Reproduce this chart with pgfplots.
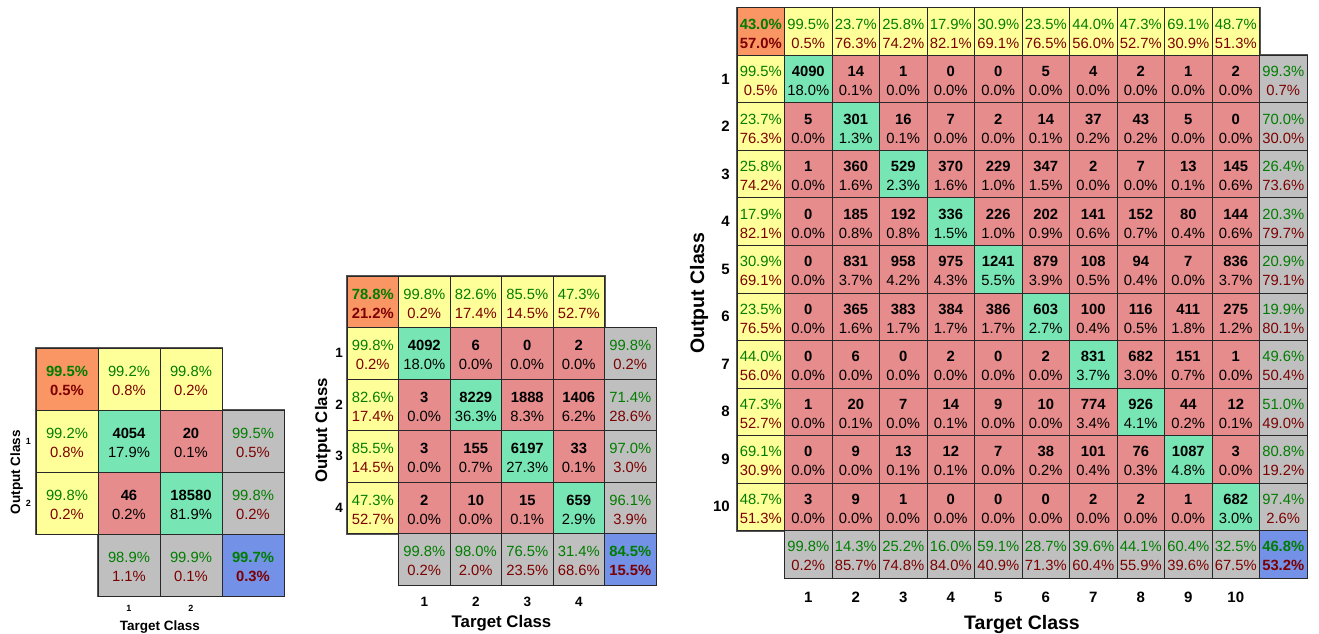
\documentclass[border=0pt]{standalone}
\usepackage{fontspec}
\setmainfont{Liberation Sans}
\usepackage{pgfplots}
\usepackage{pgfplotstable}
\pgfplotsset{compat=1.18}
\definecolor{corange}{RGB}{250,150,100}
\definecolor{cyellow}{RGB}{255,255,153}
\definecolor{cgreen}{RGB}{120,230,180}
\definecolor{cred}{RGB}{230,140,140}
\definecolor{cgray}{RGB}{191,191,191}
\definecolor{cblue}{RGB}{115,145,230}
\definecolor{tgreen}{RGB}{0,125,0}
\definecolor{tred}{RGB}{125,0,0}
\definecolor{edge}{RGB}{40,40,40}
\definecolor{outl}{RGB}{85,85,85}

\newcommand\cnt[1]{\pgfmathprintnumber[fixed,precision=0,1000 sep={},assume math mode=true]{#1}}
\newcommand\pct[1]{\pgfmathprintnumber[fixed,fixed zerofill,precision=1,assume math mode=true]{#1}\%}

\pgfplotstableread[row sep=\\]{
c r k a b \\
0 0 o 99.5 0.5 \\ 1 0 y 99.2 0.8 \\ 2 0 y 99.8 0.2 \\
0 1 y 99.2 0.8 \\ 1 1 g 4054 17.9 \\ 2 1 r 20 0.1 \\ 3 1 s 99.5 0.5 \\
0 2 y 99.8 0.2 \\ 1 2 r 46 0.2 \\ 2 2 g 18580 81.9 \\ 3 2 s 99.8 0.2 \\
1 3 s 98.9 1.1 \\ 2 3 s 99.9 0.1 \\ 3 3 b 99.7 0.3 \\
}\tA

\pgfplotstableread[row sep=\\]{
c r k a b \\
0 0 o 78.8 21.2 \\ 1 0 y 99.8 0.2 \\ 2 0 y 82.6 17.4 \\ 3 0 y 85.5 14.5 \\ 4 0 y 47.3 52.7 \\
0 1 y 99.8 0.2 \\ 1 1 g 4092 18.0 \\ 2 1 r 6 0.0 \\ 3 1 r 0 0.0 \\ 4 1 r 2 0.0 \\ 5 1 s 99.8 0.2 \\
0 2 y 82.6 17.4 \\ 1 2 r 3 0.0 \\ 2 2 g 8229 36.3 \\ 3 2 r 1888 8.3 \\ 4 2 r 1406 6.2 \\ 5 2 s 71.4 28.6 \\
0 3 y 85.5 14.5 \\ 1 3 r 3 0.0 \\ 2 3 r 155 0.7 \\ 3 3 g 6197 27.3 \\ 4 3 r 33 0.1 \\ 5 3 s 97.0 3.0 \\
0 4 y 47.3 52.7 \\ 1 4 r 2 0.0 \\ 2 4 r 10 0.0 \\ 3 4 r 15 0.1 \\ 4 4 g 659 2.9 \\ 5 4 s 96.1 3.9 \\
1 5 s 99.8 0.2 \\ 2 5 s 98.0 2.0 \\ 3 5 s 76.5 23.5 \\ 4 5 s 31.4 68.6 \\ 5 5 b 84.5 15.5 \\
}\tB

\pgfplotstableread[row sep=\\]{
c r k a b \\
0 0 o 43.0 57.0 \\ 1 0 y 99.5 0.5 \\ 2 0 y 23.7 76.3 \\ 3 0 y 25.8 74.2 \\ 4 0 y 17.9 82.1 \\ 5 0 y 30.9 69.1 \\ 6 0 y 23.5 76.5 \\ 7 0 y 44.0 56.0 \\ 8 0 y 47.3 52.7 \\ 9 0 y 69.1 30.9 \\ 10 0 y 48.7 51.3 \\
0 1 y 99.5 0.5 \\ 1 1 g 4090 18.0 \\ 2 1 r 14 0.1 \\ 3 1 r 1 0.0 \\ 4 1 r 0 0.0 \\ 5 1 r 0 0.0 \\ 6 1 r 5 0.0 \\ 7 1 r 4 0.0 \\ 8 1 r 2 0.0 \\ 9 1 r 1 0.0 \\ 10 1 r 2 0.0 \\ 11 1 s 99.3 0.7 \\
0 2 y 23.7 76.3 \\ 1 2 r 5 0.0 \\ 2 2 g 301 1.3 \\ 3 2 r 16 0.1 \\ 4 2 r 7 0.0 \\ 5 2 r 2 0.0 \\ 6 2 r 14 0.1 \\ 7 2 r 37 0.2 \\ 8 2 r 43 0.2 \\ 9 2 r 5 0.0 \\ 10 2 r 0 0.0 \\ 11 2 s 70.0 30.0 \\
0 3 y 25.8 74.2 \\ 1 3 r 1 0.0 \\ 2 3 r 360 1.6 \\ 3 3 g 529 2.3 \\ 4 3 r 370 1.6 \\ 5 3 r 229 1.0 \\ 6 3 r 347 1.5 \\ 7 3 r 2 0.0 \\ 8 3 r 7 0.0 \\ 9 3 r 13 0.1 \\ 10 3 r 145 0.6 \\ 11 3 s 26.4 73.6 \\
0 4 y 17.9 82.1 \\ 1 4 r 0 0.0 \\ 2 4 r 185 0.8 \\ 3 4 r 192 0.8 \\ 4 4 g 336 1.5 \\ 5 4 r 226 1.0 \\ 6 4 r 202 0.9 \\ 7 4 r 141 0.6 \\ 8 4 r 152 0.7 \\ 9 4 r 80 0.4 \\ 10 4 r 144 0.6 \\ 11 4 s 20.3 79.7 \\
0 5 y 30.9 69.1 \\ 1 5 r 0 0.0 \\ 2 5 r 831 3.7 \\ 3 5 r 958 4.2 \\ 4 5 r 975 4.3 \\ 5 5 g 1241 5.5 \\ 6 5 r 879 3.9 \\ 7 5 r 108 0.5 \\ 8 5 r 94 0.4 \\ 9 5 r 7 0.0 \\ 10 5 r 836 3.7 \\ 11 5 s 20.9 79.1 \\
0 6 y 23.5 76.5 \\ 1 6 r 0 0.0 \\ 2 6 r 365 1.6 \\ 3 6 r 383 1.7 \\ 4 6 r 384 1.7 \\ 5 6 r 386 1.7 \\ 6 6 g 603 2.7 \\ 7 6 r 100 0.4 \\ 8 6 r 116 0.5 \\ 9 6 r 411 1.8 \\ 10 6 r 275 1.2 \\ 11 6 s 19.9 80.1 \\
0 7 y 44.0 56.0 \\ 1 7 r 0 0.0 \\ 2 7 r 6 0.0 \\ 3 7 r 0 0.0 \\ 4 7 r 2 0.0 \\ 5 7 r 0 0.0 \\ 6 7 r 2 0.0 \\ 7 7 g 831 3.7 \\ 8 7 r 682 3.0 \\ 9 7 r 151 0.7 \\ 10 7 r 1 0.0 \\ 11 7 s 49.6 50.4 \\
0 8 y 47.3 52.7 \\ 1 8 r 1 0.0 \\ 2 8 r 20 0.1 \\ 3 8 r 7 0.0 \\ 4 8 r 14 0.1 \\ 5 8 r 9 0.0 \\ 6 8 r 10 0.0 \\ 7 8 r 774 3.4 \\ 8 8 g 926 4.1 \\ 9 8 r 44 0.2 \\ 10 8 r 12 0.1 \\ 11 8 s 51.0 49.0 \\
0 9 y 69.1 30.9 \\ 1 9 r 0 0.0 \\ 2 9 r 9 0.0 \\ 3 9 r 13 0.1 \\ 4 9 r 12 0.1 \\ 5 9 r 7 0.0 \\ 6 9 r 38 0.2 \\ 7 9 r 101 0.4 \\ 8 9 r 76 0.3 \\ 9 9 g 1087 4.8 \\ 10 9 r 3 0.0 \\ 11 9 s 80.8 19.2 \\
0 10 y 48.7 51.3 \\ 1 10 r 3 0.0 \\ 2 10 r 9 0.0 \\ 3 10 r 1 0.0 \\ 4 10 r 0 0.0 \\ 5 10 r 0 0.0 \\ 6 10 r 0 0.0 \\ 7 10 r 2 0.0 \\ 8 10 r 2 0.0 \\ 9 10 r 1 0.0 \\ 10 10 g 682 3.0 \\ 11 10 s 97.4 2.6 \\
1 11 s 99.8 0.2 \\ 2 11 s 14.3 85.7 \\ 3 11 s 25.2 74.8 \\ 4 11 s 16.0 84.0 \\ 5 11 s 59.1 40.9 \\ 6 11 s 28.7 71.3 \\ 7 11 s 39.6 60.4 \\ 8 11 s 44.1 55.9 \\ 9 11 s 60.4 39.6 \\ 10 11 s 32.5 67.5 \\ 11 11 b 46.8 53.2 \\
}\tC

\pgfplotsset{
  cm/.style={
    scale only axis, clip=false, anchor=north west,
    axis line style={draw=none}, tick style={draw=none}, major tick length=0pt,
    xmin=0, ymin=0,
    /pgf/number format/assume math mode=true,
    xticklabel style={anchor=center, inner sep=0pt},
    yticklabel style={anchor=east, inner sep=0pt},
    xlabel style={anchor=base, inner sep=0pt},
    ylabel style={anchor=base, inner sep=0pt},
  },
  fills/.style={scatter, only marks, scatter src=explicit symbolic, line width=1pt,
    scatter/classes={
      o={mark=square*, fill=corange, draw=edge},
      y={mark=square*, fill=cyellow, draw=edge},
      g={mark=square*, fill=cgreen, draw=edge},
      r={mark=square*, fill=cred, draw=edge},
      s={mark=square*, fill=cgray, draw=edge},
      b={mark=square*, fill=cblue, draw=edge}}},
  % number of "margin" conditions met: 0 = data cell, 1 = summary cell, 2 = corner cell
  sel/.style n args={3}{restrict expr to domain={(\thisrow{c}<0.5)+(\thisrow{c}>#1+0.5)+(\thisrow{r}<0.5)+(\thisrow{r}>#1+0.5)}{#2:#3}},
  txt/.style={only marks, mark=*, mark size=0pt, mark options={draw=none, fill=none},
    visualization depends on={\thisrow{a}\as\va},
    visualization depends on={\thisrow{b}\as\vb},
    every node near coord/.append style={anchor=center, align=center, inner sep=0pt, text=black,
      yshift=-2pt, font=\fontsize{14.8}{19}\selectfont}},
  tdata/.style={txt, nodes near coords={\textbf{\cnt{\va}}\\\pct{\vb}}},
  tmarg/.style={txt, nodes near coords={\textcolor{tgreen}{\pct{\va}}\\\textcolor{tred}{\pct{\vb}}}},
  tcorn/.style={txt, nodes near coords={\textbf{\textcolor{tgreen}{\pct{\va}}}\\\textbf{\textcolor{tred}{\pct{\vb}}}}},
  outline/.style={draw=outl, line width=2pt, line join=miter, mark=none},
}

\begin{document}
\begin{tikzpicture}
\useasboundingbox (0,0) rectangle (1319pt,633pt);

% ---------- 2 classes ----------
\begin{axis}[cm, at={(36pt,285pt)}, width=248pt, height=248pt, xmax=4, ymax=4,
  xtick={1.5,2.5}, xticklabels={1,2}, ytick={1.5,2.5}, yticklabels={2,1},
  xticklabel style={yshift=-12pt, font=\fontsize{9}{10}\selectfont\bfseries},
  yticklabel style={xshift=-5pt, font=\fontsize{9}{10}\selectfont\bfseries},
  xlabel={Target Class}, ylabel={Output Class},
  xlabel style={at={(axis description cs:0.5,-0.141)}, font=\fontsize{13.5}{15}\selectfont\bfseries},
  ylabel style={at={(axis description cs:-0.0645,0.5)}, font=\fontsize{13.5}{15}\selectfont\bfseries}]
\addplot[fills, mark size=31pt] table[x expr=\thisrow{c}+0.5, y expr=3.5-\thisrow{r}, meta=k] {\tA};
\addplot[tdata, sel={2}{-0.5}{0.5}] table[x expr=\thisrow{c}+0.5, y expr=3.5-\thisrow{r}] {\tA};
\addplot[tmarg, sel={2}{0.5}{1.5}] table[x expr=\thisrow{c}+0.5, y expr=3.5-\thisrow{r}] {\tA};
\addplot[tcorn, sel={2}{1.5}{2.5}] table[x expr=\thisrow{c}+0.5, y expr=3.5-\thisrow{r}] {\tA};
\addplot[outline] coordinates {(0,4) (3,4) (3,3) (4,3) (4,0) (1,0) (1,1) (0,1) (0,4) (3,4)};
\addplot[outline] coordinates {(1,0) (1,1) (3,1) (3,3) (4,3)};
\end{axis}

% ---------- 4 classes ----------
\begin{axis}[cm, at={(347pt,357pt)}, width=309pt, height=309pt, xmax=6, ymax=6,
  xtick={1.5,2.5,3.5,4.5}, xticklabels={1,2,3,4}, ytick={1.5,2.5,3.5,4.5}, yticklabels={4,3,2,1},
  xticklabel style={yshift=-17pt, font=\fontsize{13.5}{15}\selectfont\bfseries},
  yticklabel style={xshift=-4pt, font=\fontsize{13.5}{15}\selectfont\bfseries},
  xlabel={Target Class}, ylabel={Output Class},
  xlabel style={at={(axis description cs:0.5,-0.136)}, font=\fontsize{16.8}{18}\selectfont\bfseries},
  ylabel style={at={(axis description cs:-0.0647,0.5)}, font=\fontsize{16.8}{18}\selectfont\bfseries}]
\addplot[fills, mark size=25.75pt] table[x expr=\thisrow{c}+0.5, y expr=5.5-\thisrow{r}, meta=k] {\tB};
\addplot[tdata, sel={4}{-0.5}{0.5}] table[x expr=\thisrow{c}+0.5, y expr=5.5-\thisrow{r}] {\tB};
\addplot[tmarg, sel={4}{0.5}{1.5}] table[x expr=\thisrow{c}+0.5, y expr=5.5-\thisrow{r}] {\tB};
\addplot[tcorn, sel={4}{1.5}{2.5}] table[x expr=\thisrow{c}+0.5, y expr=5.5-\thisrow{r}] {\tB};
\addplot[outline] coordinates {(0,6) (5,6) (5,5) (6,5) (6,0) (1,0) (1,1) (0,1) (0,6) (5,6)};
\addplot[outline] coordinates {(1,0) (1,1) (5,1) (5,5) (6,5)};
\end{axis}

% ---------- 10 classes ----------
\begin{axis}[cm, at={(737pt,625pt)}, width=570pt, height=570pt, xmax=12, ymax=12,
  xtick={1.5,2.5,3.5,4.5,5.5,6.5,7.5,8.5,9.5,10.5}, xticklabels={1,2,3,4,5,6,7,8,9,10},
  ytick={1.5,2.5,3.5,4.5,5.5,6.5,7.5,8.5,9.5,10.5}, yticklabels={10,9,8,7,6,5,4,3,2,1},
  xticklabel style={yshift=-19pt, font=\fontsize{15}{17}\selectfont\bfseries},
  yticklabel style={xshift=-7pt, font=\fontsize{15}{17}\selectfont\bfseries},
  xlabel={Target Class}, ylabel={Output Class},
  xlabel style={at={(axis description cs:0.5,-0.0912)}, font=\fontsize{19.5}{21}\selectfont\bfseries},
  ylabel style={at={(axis description cs:-0.0579,0.5)}, font=\fontsize{19.5}{21}\selectfont\bfseries}]
\addplot[fills, mark size=23.75pt] table[x expr=\thisrow{c}+0.5, y expr=11.5-\thisrow{r}, meta=k] {\tC};
\addplot[tdata, sel={10}{-0.5}{0.5}] table[x expr=\thisrow{c}+0.5, y expr=11.5-\thisrow{r}] {\tC};
\addplot[tmarg, sel={10}{0.5}{1.5}] table[x expr=\thisrow{c}+0.5, y expr=11.5-\thisrow{r}] {\tC};
\addplot[tcorn, sel={10}{1.5}{2.5}] table[x expr=\thisrow{c}+0.5, y expr=11.5-\thisrow{r}] {\tC};
\addplot[outline] coordinates {(0,12) (11,12) (11,11) (12,11) (12,0) (1,0) (1,1) (0,1) (0,12) (11,12)};
\addplot[outline] coordinates {(1,0) (1,1) (11,1) (11,11) (12,11)};
\end{axis}
\end{tikzpicture}
\end{document}
